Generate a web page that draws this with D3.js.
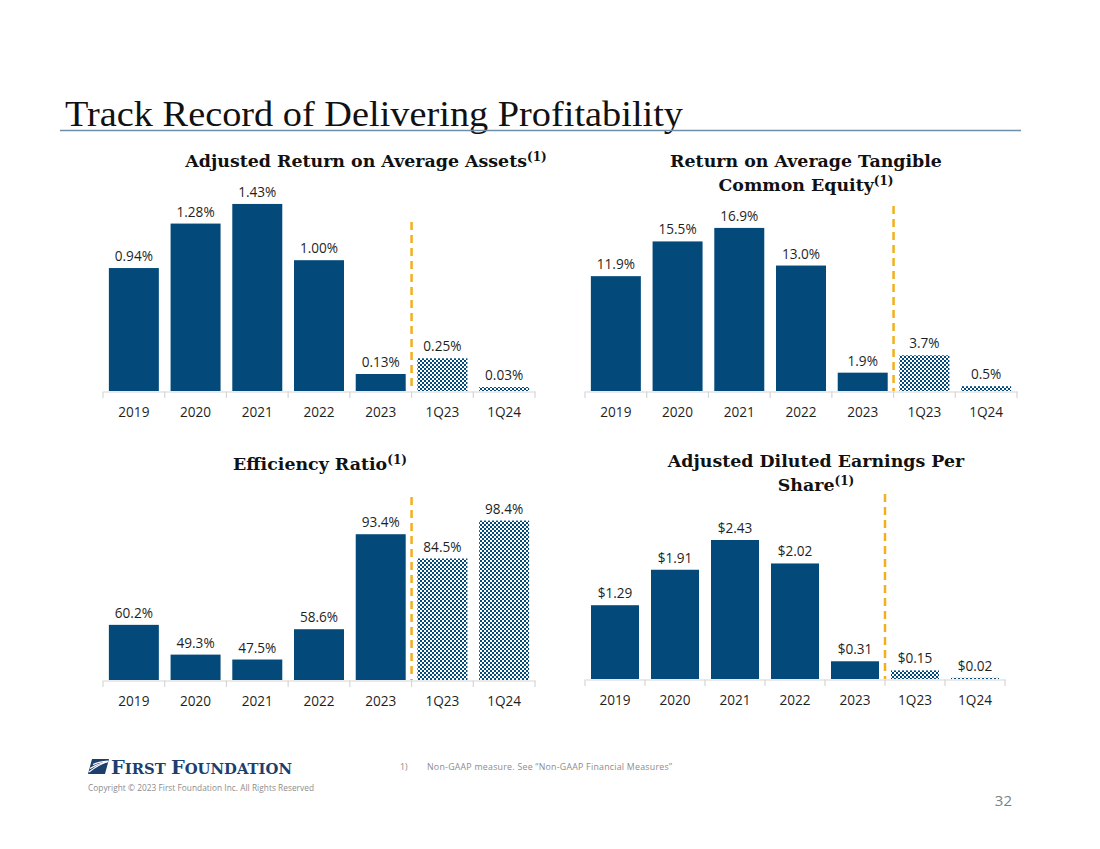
<!DOCTYPE html>
<html><head><meta charset="utf-8">
<script src="https://cdn.jsdelivr.net/npm/d3@7"></script>
<style>body{margin:0;background:#fff}</style>
</head><body><svg id="c" width="1100" height="849" xmlns="http://www.w3.org/2000/svg"></svg>
<script>
// ---------- data ----------
const categories = ["2019","2020","2021","2022","2023","1Q23","1Q24"];
const quarterCategories = ["1Q23","1Q24"];
const roaaValues = [0.94, 1.28, 1.43, 1.00, 0.13, 0.25, 0.03];
const roatceValues = [11.9, 15.5, 16.9, 13.0, 1.9, 3.7, 0.5];
const efficiencyValues = [60.2, 49.3, 47.5, 58.6, 93.4, 84.5, 98.4];
const epsValues = [1.29, 1.91, 2.43, 2.02, 0.31, 0.15, 0.02];
const roaaTitle = ["Adjusted Return on Average Assets"];
const roatceTitle = ["Return on Average Tangible", "Common Equity"];
const efficiencyTitle = ["Efficiency Ratio"];
const epsTitle = ["Adjusted Diluted Earnings Per", "Share"];
const pageTitle = "Track Record of Delivering Profitability";
const footnote = "Non-GAAP measure. See \u201CNon-GAAP Financial Measures\u201D";
const copyright = "Copyright \u00A9 2023 First Foundation Inc. All Rights Reserved";
const pageNumber = "32";

// ---------- styles ----------
const BLUE = "#034a7b";
const GOLD = "#f2b01e";
const svg = d3.select("#c");
const defs = svg.append("defs");
const pat = defs.append("pattern").attr("id","checker").attr("width",4).attr("height",4)
  .attr("patternUnits","userSpaceOnUse");
pat.append("rect").attr("width",4).attr("height",4).attr("fill","#ffffff");
pat.append("rect").attr("width",2).attr("height",2).attr("fill",BLUE);
pat.append("rect").attr("x",2).attr("y",2).attr("width",2).attr("height",2).attr("fill",BLUE);

// page title
svg.append("text").attr("x",65).attr("y",126)
  .attr("font-family","Liberation Serif, serif").attr("font-size",36).attr("fill","#111")
  .attr("textLength",618).attr("lengthAdjust","spacingAndGlyphs")
  .text(pageTitle);
svg.append("line").attr("x1",60).attr("x2",1021).attr("y1",130.5).attr("y2",130.5)
  .attr("stroke","#6f8fa8").attr("stroke-width",1.5);

function panel(cfg){
  const g = svg.append("g");
  const x = d3.scaleBand().domain(categories).range([cfg.x0, cfg.x1])
    .paddingInner(cfg.pad).paddingOuter(cfg.pad/2);
  const y = d3.scaleLinear().domain(cfg.domain).range([cfg.base, cfg.top]);
  const data = categories.map((c,i)=>({c, v: cfg.values[i]}));
  g.selectAll("rect.bar").data(data).join("rect").attr("class","bar")
    .attr("x", d=>x(d.c)).attr("width", x.bandwidth())
    .attr("y", d=>y(d.v)).attr("height", d=>Math.max(1, cfg.base - y(d.v)))
    .attr("fill", d=> quarterCategories.includes(d.c) ? "url(#checker)" : BLUE);
  g.selectAll("text.val").data(data).join("text").attr("class","val")
    .attr("x", d=>x(d.c)+x.bandwidth()/2).attr("y", d=>y(d.v)-7)
    .attr("text-anchor","middle").attr("font-family","Open Sans, sans-serif")
    .attr("font-size",13.6).attr("fill","#1f1f1f").text(d=>cfg.fmt(d.v));
  // axis
  const ax = g.append("g").attr("transform",`translate(0,${cfg.base+0.5})`)
    .call(d3.axisBottom(x).tickSize(0).tickSizeOuter(0).tickPadding(16));
  ax.select(".domain").attr("stroke","#d6d6d6").attr("stroke-width",1.2);
  ax.selectAll("text").attr("font-family","Open Sans, sans-serif").attr("font-size",13.6)
    .attr("fill","#1f1f1f");
  const step = x.step();
  const bounds = d3.range(categories.length+1).map(i => cfg.x0 + i*step);
  g.selectAll("line.tk").data(bounds).join("line").attr("class","tk")
    .attr("x1",d=>d).attr("x2",d=>d).attr("y1",cfg.base+0.5).attr("y2",cfg.base+7)
    .attr("stroke","#d6d6d6").attr("stroke-width",1.2);
  // dashed divider
  const dx = x(quarterCategories[0]) - step*cfg.pad/2;
  g.append("line").attr("x1",dx).attr("x2",dx).attr("y1",cfg.dashTop).attr("y2",cfg.base)
    .attr("stroke",GOLD).attr("stroke-width",2.5).attr("stroke-dasharray","8,5");
  // title
  cfg.title.forEach((t,i)=>{
    const tx = g.append("text").attr("x",cfg.tx).attr("y",cfg.ty + i*24)
      .attr("text-anchor","middle").attr("font-family","DejaVu Serif, serif")
      .attr("font-weight","bold").attr("font-size",17.4).attr("fill","#111");
    tx.append("tspan").text(t);
    if(i === cfg.title.length-1){
      tx.append("tspan").attr("dy",-6).attr("font-size",12).text("(1)");
    }
  });
}

panel({values: roaaValues, x0:103, x1:535, pad:0.19, domain:[0,1.6], base:391,
  top:391-1.6*130.8, fmt:v=>d3.format(".2f")(v)+"%", dashTop:222,
  title: roaaTitle, tx:366, ty:167});
panel({values: roatceValues, x0:585, x1:1017, pad:0.19, domain:[0,18], base:391,
  top:391-18*9.65, fmt:v=>d3.format(".1f")(v)+"%", dashTop:206,
  title: roatceTitle, tx:806, ty:167});
panel({values: efficiencyValues, x0:103, x1:535, pad:0.19, domain:[40,100], base:680,
  top:680-60*2.73, fmt:v=>d3.format(".1f")(v)+"%", dashTop:497,
  title: efficiencyTitle, tx:320, ty:470});
panel({values: epsValues, x0:585, x1:1005, pad:0.2, domain:[0,2.6], base:679,
  top:679-2.6*57.2, fmt:v=>"$"+d3.format(".2f")(v), dashTop:494,
  title: epsTitle, tx:816, ty:467});

// footer logo
const logo = svg.append("g");
logo.append("path").attr("d","M92,759 L109,759 L105,774 L88,774 Z").attr("fill","#1d3f6e");
["M89,772 C94,768 100,764 108,761.5","M90,768.5 C95,765.5 101,763 108,761.5","M93,764.5 C97,762.5 102,761.5 108,761"]
  .forEach(d=>logo.append("path").attr("d",d).attr("fill","none").attr("stroke","#fff").attr("stroke-width",1.2));
const lt = logo.append("text").attr("x",111).attr("y",774).attr("font-family","DejaVu Serif, serif")
  .attr("font-weight","bold").attr("fill","#1d3f6e").attr("font-size",19)
  .attr("textLength",181).attr("lengthAdjust","spacingAndGlyphs");
lt.append("tspan").text("F");
lt.append("tspan").attr("font-size",14.5).text("IRST ");
lt.append("tspan").text("F");
lt.append("tspan").attr("font-size",14.5).text("OUNDATION");
svg.append("text").attr("x",88).attr("y",791).attr("font-family","Open Sans, sans-serif")
  .attr("font-size",8.3).attr("fill","#8c8c8c").attr("textLength",226).text(copyright);
svg.append("text").attr("x",400).attr("y",770).attr("font-family","Open Sans, sans-serif")
  .attr("font-size",8.8).attr("fill","#8c8c8c").text("1)");
svg.append("text").attr("x",427).attr("y",770).attr("font-family","Open Sans, sans-serif")
  .attr("font-size",8.8).attr("fill","#8c8c8c").attr("textLength",245).text(footnote);
svg.append("text").attr("x",1012).attr("y",806).attr("text-anchor","end")
  .attr("font-family","Open Sans, sans-serif").attr("font-size",15).attr("fill","#7f7f7f").text(pageNumber);
</script></body></html>
